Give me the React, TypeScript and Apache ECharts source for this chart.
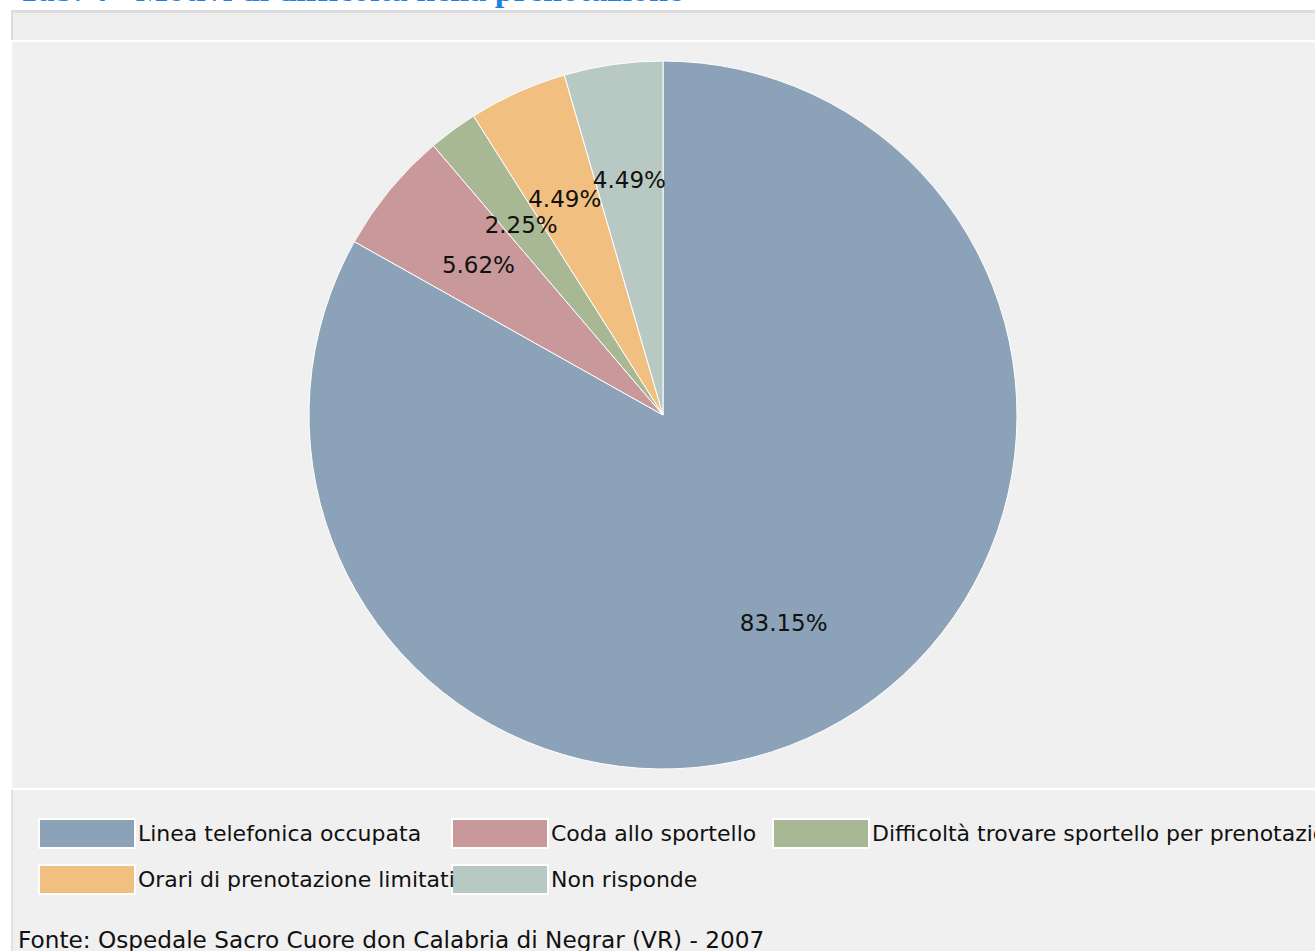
import React, { useEffect, useRef } from "react";
import * as echarts from "echarts";

const categories = [
  "Linea telefonica occupata",
  "Coda allo sportello",
  "Difficoltà trovare sportello per prenotazione",
  "Orari di prenotazione limitati",
  "Non risponde",
];
const counts = [74, 5, 2, 4, 4];
const colors = ["#8ba2b8", "#c8989a", "#a9b894", "#f1bf80", "#b8c8c2"];
const titleText = "Tab. 4 - Motivi di difficoltà nella prenotazione";
const sourceText = "Fonte: Ospedale Sacro Cuore don Calabria di Negrar (VR) - 2007";

const FONT = "'DejaVu Sans', Verdana, sans-serif";

export default function App() {
  const ref = useRef<HTMLDivElement>(null);
  useEffect(() => {
    if (!ref.current) return;
    const chart = echarts.init(ref.current, undefined, { renderer: "svg" });
    const data = categories.map((name, i) => ({
      name,
      value: counts[i],
      itemStyle: { color: colors[i] },
    }));
    const legendPos = [
      { left: 38, top: 818 },
      { left: 451, top: 818 },
      { left: 772, top: 818 },
      { left: 38, top: 864 },
      { left: 451, top: 864 },
    ];
    // draw order so that "Orari ..." text lies over the next swatch, as in the original
    const legendOrder = [0, 1, 2, 4, 3];
    chart.setOption({
      animation: false,
      backgroundColor: "#ffffff",
      graphic: [
        { type: "rect", z: -10, shape: { x: 12, y: 10, width: 1303, height: 30 }, style: { fill: "#eeeeee" } },
        { type: "rect", z: -9, shape: { x: 12, y: 10, width: 1303, height: 3 }, style: { fill: "#dcdcdc" } },
        { type: "rect", z: -9, shape: { x: 11, y: 10, width: 2, height: 30 }, style: { fill: "#dcdcdc" } },
        { type: "rect", z: -10, shape: { x: 12, y: 42, width: 1303, height: 746 }, style: { fill: "#f0f0f0" } },
        { type: "rect", z: -10, shape: { x: 12, y: 790, width: 1303, height: 161 }, style: { fill: "#f0f0f0" } },
        { type: "rect", z: -9, shape: { x: 11, y: 790, width: 2, height: 161 }, style: { fill: "#e2e2e2" } },
        {
          type: "text",
          z: 5,
          style: {
            text: titleText,
            x: 18,
            y: 6,
            fill: "#1e7fe6",
            font: "bold 34px 'Liberation Serif', 'DejaVu Serif', serif",
            verticalAlign: "bottom",
          },
        },
        {
          type: "text",
          z: 5,
          style: {
            text: sourceText,
            x: 18,
            y: 939,
            fill: "#111111",
            font: "23.2px " + FONT,
            verticalAlign: "middle",
          },
        },
      ],
      legend: legendOrder.map((i) => ({
        data: [categories[i]],
        left: legendPos[i].left,
        top: legendPos[i].top,
        padding: 0,
        itemGap: 0,
        itemWidth: 96,
        itemHeight: 29,
        icon: "rect",
        selectedMode: false,
        textStyle: { fontFamily: FONT, fontSize: 22, color: "#111111", padding: [0, 0, 0, -2] },
      })),
      series: [
        {
          type: "pie",
          center: [663, 415],
          radius: [0, 354],
          startAngle: 90,
          clockwise: true,
          data,
          label: { show: false },
          labelLine: { show: false },
          itemStyle: { borderColor: "#ffffff", borderWidth: 1 },
          emphasis: { disabled: true },
        },
        {
          type: "pie",
          center: [663, 415],
          radius: [118, 354],
          startAngle: 90,
          clockwise: true,
          avoidLabelOverlap: false,
          data: categories.map((name, i) => ({ name, value: counts[i] })),
          itemStyle: { color: "rgba(0,0,0,0)", borderWidth: 0 },
          label: {
            show: true,
            position: "inside",
            formatter: "{d}%",
            fontFamily: FONT,
            fontSize: 23,
            color: "#111111",
            offset: [0, 2],
          },
          labelLayout: { hideOverlap: false },
          labelLine: { show: false },
          emphasis: { disabled: true },
          silent: true,
        },
      ],
    });
    return () => chart.dispose();
  }, []);
  return (
    <div
      ref={ref}
      style={{ position: "absolute", left: 0, top: 0, width: 1315, height: 951 }}
    />
  );
}
